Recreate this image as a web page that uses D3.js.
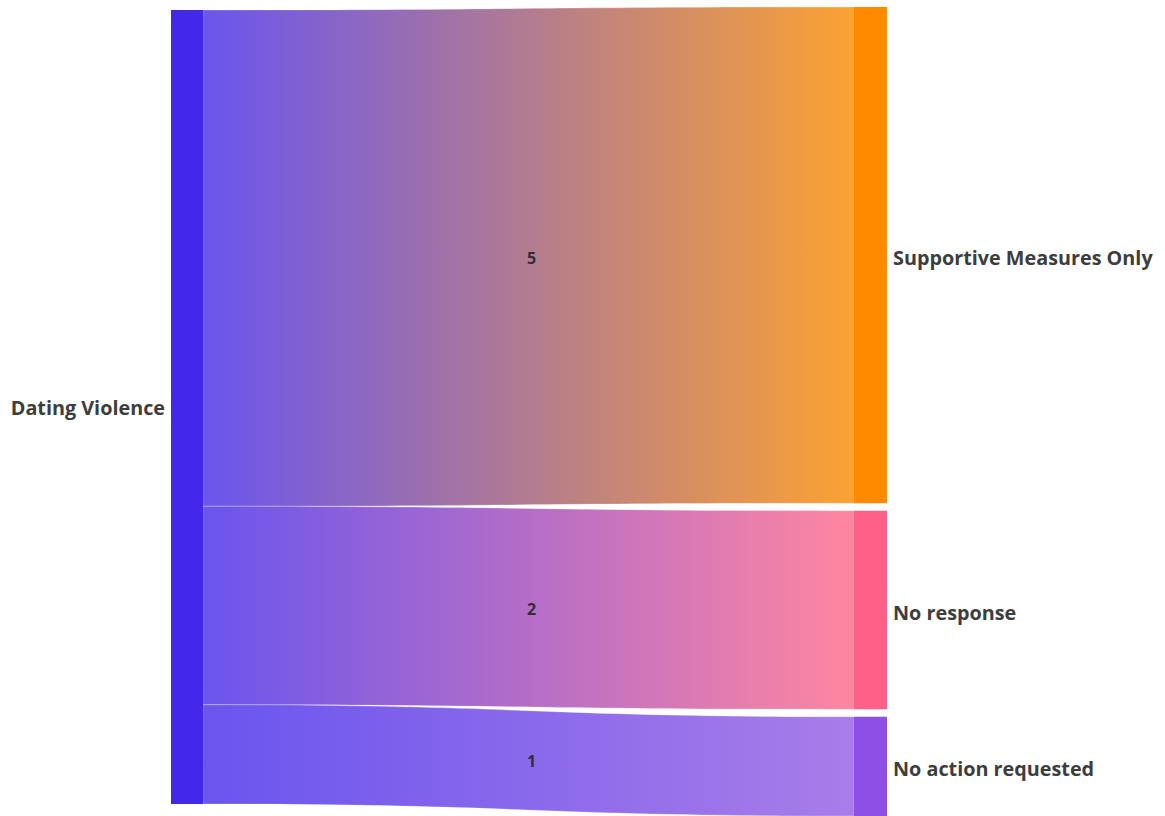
<!DOCTYPE html>
<html><head><meta charset="utf-8">
<script src="https://cdn.jsdelivr.net/npm/d3@7"></script>
<style>html,body{margin:0;padding:0;background:#fff;overflow:hidden}</style>
</head><body>
<svg id="chart" width="1165" height="816"></svg>
<script>
// ---- data ----
const sourceNames = ["Dating Violence"];
const targetNames = ["Supportive Measures Only", "No response", "No action requested"];
const flowValues = [5, 2, 1];
const sourceColors = ["#4428e9"];
const targetColors = ["#ff8a00", "#ff6088", "#8e4fe6"];
const linkStartColors = ["#6a55ee", "#6a55ee", "#6a55ee"];
const linkEndColors = ["#fba232", "#ff86a0", "#a97de9"];

(function () {
// ---- layout ----
const svg = d3.select("#chart");
const defs = svg.append("defs");
const total = d3.sum(flowValues);
const leftX = [171, 203], rightX = [854, 887];
const yTop = 10, yBottom = 804, rightTop = 7, pad = 7.5;
const h = d3.scaleLinear().domain([0, total]).range([0, yBottom - yTop]);

const src = {x0: leftX[0], x1: leftX[1], y0: yTop, y1: yTop + h(total)};
let yy = rightTop;
const tgts = flowValues.map((v, i) => {
  const n = {name: targetNames[i], x0: rightX[0], x1: rightX[1], y0: yy, y1: yy + h(v), color: targetColors[i]};
  yy = n.y1 + pad;
  return n;
});
let sy = src.y0;
const links = flowValues.map((v, i) => {
  const l = {value: v, sy0: sy, sy1: sy + h(v), ty0: tgts[i].y0, ty1: tgts[i].y1, i};
  sy = l.sy1;
  return l;
});

links.forEach((l, i) => {
  const g = defs.append("linearGradient").attr("id", "g" + i)
    .attr("gradientUnits", "userSpaceOnUse")
    .attr("x1", src.x1).attr("x2", tgts[i].x0).attr("y1", 0).attr("y2", 0);
  g.append("stop").attr("offset", "0%").attr("stop-color", linkStartColors[i]);
  g.append("stop").attr("offset", "100%").attr("stop-color", linkEndColors[i]);
});

function ribbon(l) {
  const x0 = src.x1, x1 = rightX[0], xm = (x0 + x1) / 2;
  const p = d3.path();
  p.moveTo(x0, l.sy0);
  p.bezierCurveTo(xm, l.sy0, xm, l.ty0, x1, l.ty0);
  p.lineTo(x1, l.ty1);
  p.bezierCurveTo(xm, l.ty1, xm, l.sy1, x0, l.sy1);
  p.closePath();
  return p.toString();
}

svg.append("g").selectAll("path").data(links).join("path")
  .attr("d", ribbon)
  .attr("fill", (d, i) => `url(#g${i})`)
  .attr("stroke", "#ffffff").attr("stroke-opacity", 0.5).attr("stroke-width", 0.5);

svg.append("rect").attr("x", src.x0).attr("y", src.y0).attr("width", src.x1 - src.x0)
  .attr("height", src.y1 - src.y0).attr("fill", sourceColors[0]);
svg.append("g").selectAll("rect").data(tgts).join("rect")
  .attr("x", d => d.x0).attr("y", d => d.y0).attr("width", d => d.x1 - d.x0)
  .attr("height", d => d.y1 - d.y0).attr("fill", d => d.color);

const font = "'Open Sans', Lato, sans-serif";
svg.append("text").attr("x", src.x0 - 6).attr("y", (src.y0 + src.y1) / 2)
  .attr("text-anchor", "end").attr("dominant-baseline", "central")
  .attr("font-family", font).attr("font-weight", 700).attr("font-size", 19.8)
  .attr("fill", "#3d3d3d").text(sourceNames[0]);
svg.append("g").selectAll("text").data(tgts).join("text")
  .attr("x", d => d.x1 + 6).attr("y", d => (d.y0 + d.y1) / 2 + 2)
  .attr("dominant-baseline", "central")
  .attr("font-family", font).attr("font-weight", 700).attr("font-size", 19.8)
  .attr("fill", "#3d3d3d").text(d => d.name);

svg.append("g").selectAll("text").data(links).join("text")
  .attr("x", (src.x1 + rightX[0]) / 2 + 3)
  .attr("y", d => ((d.sy0 + d.sy1) / 2 + (d.ty0 + d.ty1) / 2) / 2 + 1)
  .attr("text-anchor", "middle").attr("dominant-baseline", "central")
  .attr("font-family", font).attr("font-weight", 700).attr("font-size", 16)
  .attr("fill", "#2e2e3a").text(d => d.value);
})();
</script>
</body></html>
